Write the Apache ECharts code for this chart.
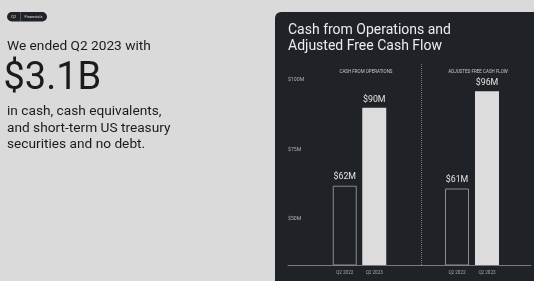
<!DOCTYPE html>
<html>
<head>
<meta charset="utf-8">
<script src="https://cdn.jsdelivr.net/npm/echarts@6/dist/echarts.min.js"></script>
<style>
	html, body { margin: 0; padding: 0; background: #dadada; }
	#chart { width: 534px; height: 281px; }
</style>
</head>
<body>
<div id="chart"></div>
<script>
// data
var categories = ['Q2 2022', 'Q2 2023'];
var cashFromOps = [62, 90];
var adjFreeCashFlow = [61, 96];
var yTicks = [50, 75, 100];
var groupTitles = ['CASH FROM OPERATIONS', 'ADJUSTED FREE CASH FLOW'];
var yMin = 33.5, yMax = 100;

var font = 'Roboto, "Noto Sans", sans-serif';
var panelColor = '#1f2226';

function barData(values) {
	// first bar outlined, second bar filled
	return values.map(function (v, i) {
		if (i == 0) {
			return { value: v, itemStyle: { color: panelColor, borderColor: '#8c8c8c', borderWidth: 1 } };
		}
		return { value: v, itemStyle: { color: '#dcdcdc' } };
	});
}

function barSeries(name, values, idx) {
	return {
		name: name,
		type: 'bar',
		xAxisIndex: idx,
		yAxisIndex: idx,
		barWidth: 24,
		data: barData(values),
		label: {
			show: true,
			position: 'top',
			distance: 4,
			color: '#e2e2e2',
			fontFamily: font,
			fontSize: 8.8,
			formatter: function (p) { return '$' + p.value + 'M'; }
		},
		silent: true
	};
}

var catAxis = function (idx) {
	return {
		type: 'category',
		gridIndex: idx,
		data: categories,
		axisLine: { show: false },
		axisTick: { show: false },
		axisLabel: { color: '#a8a8a8', fontSize: 4.6, fontFamily: font, margin: 5 }
	};
};
var hiddenY = function (idx) {
	return {
		type: 'value', gridIndex: idx, min: yMin, max: yMax, show: false
	};
};

var chart = echarts.init(document.getElementById('chart'), null, { renderer: 'canvas' });
chart.setOption({
	backgroundColor: '#dadada',
	animation: false,
	title: [
		{ text: groupTitles[0], left: 361, top: 64.5, textAlign: 'center',
			textStyle: { color: '#c8c8c8', fontSize: 4.5, fontWeight: 'normal', fontFamily: font } },
		{ text: groupTitles[1], left: 473, top: 64.5, textAlign: 'center',
			textStyle: { color: '#c8c8c8', fontSize: 4.5, fontWeight: 'normal', fontFamily: font } }
	],
	grid: [
		{ left: 288, top: 80, width: 243, height: 185 },
		{ left: 330, top: 80, width: 59, height: 185 },
		{ left: 442, top: 80, width: 60, height: 185 }
	],
	xAxis: [
		{
			type: 'value', gridIndex: 0, min: 0, max: 1,
			axisLine: { show: true, onZero: false, lineStyle: { color: '#7a7a7a', width: 1 } },
			axisTick: { show: false }, axisLabel: { show: false }, splitLine: { show: false }
		},
		catAxis(1),
		catAxis(2)
	],
	yAxis: [
		{
			type: 'value', gridIndex: 0, min: yMin, max: yMax,
			axisLine: { show: false }, axisTick: { show: false }, splitLine: { show: false },
			axisLabel: {
				inside: true, margin: 0, customValues: yTicks,
				color: '#b0b0b0', fontSize: 5.2, fontFamily: font,
				formatter: function (v) { return '$' + v + 'M'; }
			}
		},
		hiddenY(1),
		hiddenY(2)
	],
	series: [
		barSeries('Cash from Operations', cashFromOps, 1),
		barSeries('Adjusted Free Cash Flow', adjFreeCashFlow, 2)
	],
	graphic: [
		// dark panel
		{ type: 'rect', z: -10, shape: { x: 275, y: 12, width: 275, height: 290, r: 6 }, style: { fill: panelColor } },
		// divider
		{ type: 'line', z: 5, shape: { x1: 421.5, y1: 64, x2: 421.5, y2: 265 },
			style: { stroke: '#777', lineWidth: 1, lineDash: [1, 1] } },
		// panel title
		{ type: 'text', x: 288, y: 22.5, style: { text: 'Cash from Operations and\nAdjusted Free Cash Flow',
			fill: '#ececec', font: '14px ' + font, lineHeight: 16, verticalAlign: 'top' } },
		// pill tag
		{ type: 'rect', shape: { x: 7, y: 12, width: 40, height: 9.5, r: 4.75 }, style: { fill: panelColor } },
		{ type: 'line', shape: { x1: 20.5, y1: 12, x2: 20.5, y2: 21.5 }, style: { stroke: '#777', lineWidth: 0.6 } },
		{ type: 'text', x: 13.7, y: 16.8, style: { text: 'Q2', fill: '#ddd', font: '4px ' + font, align: 'center', verticalAlign: 'middle' } },
		{ type: 'text', x: 33.5, y: 16.8, style: { text: 'Financials', fill: '#ddd', font: '4px ' + font, align: 'center', verticalAlign: 'middle' } },
		// left copy
		{ type: 'text', x: 7, y: 47, style: { text: 'We ended Q2 2023 with', fill: '#1b1b1b', font: '13.7px ' + font, verticalAlign: 'middle' } },
		{ type: 'text', x: 3.5, y: 79, style: { text: '$3.1B', fill: '#1b1b1b', font: '38px ' + font, verticalAlign: 'middle' } },
		{ type: 'text', x: 7, y: 103.8, style: { text: 'in cash, cash equivalents,\nand short-term US treasury\nsecurities and no debt.',
			fill: '#1b1b1b', font: '13.7px ' + font, lineHeight: 16.2, verticalAlign: 'top' } }
	]
});
</script>
</body>
</html>
